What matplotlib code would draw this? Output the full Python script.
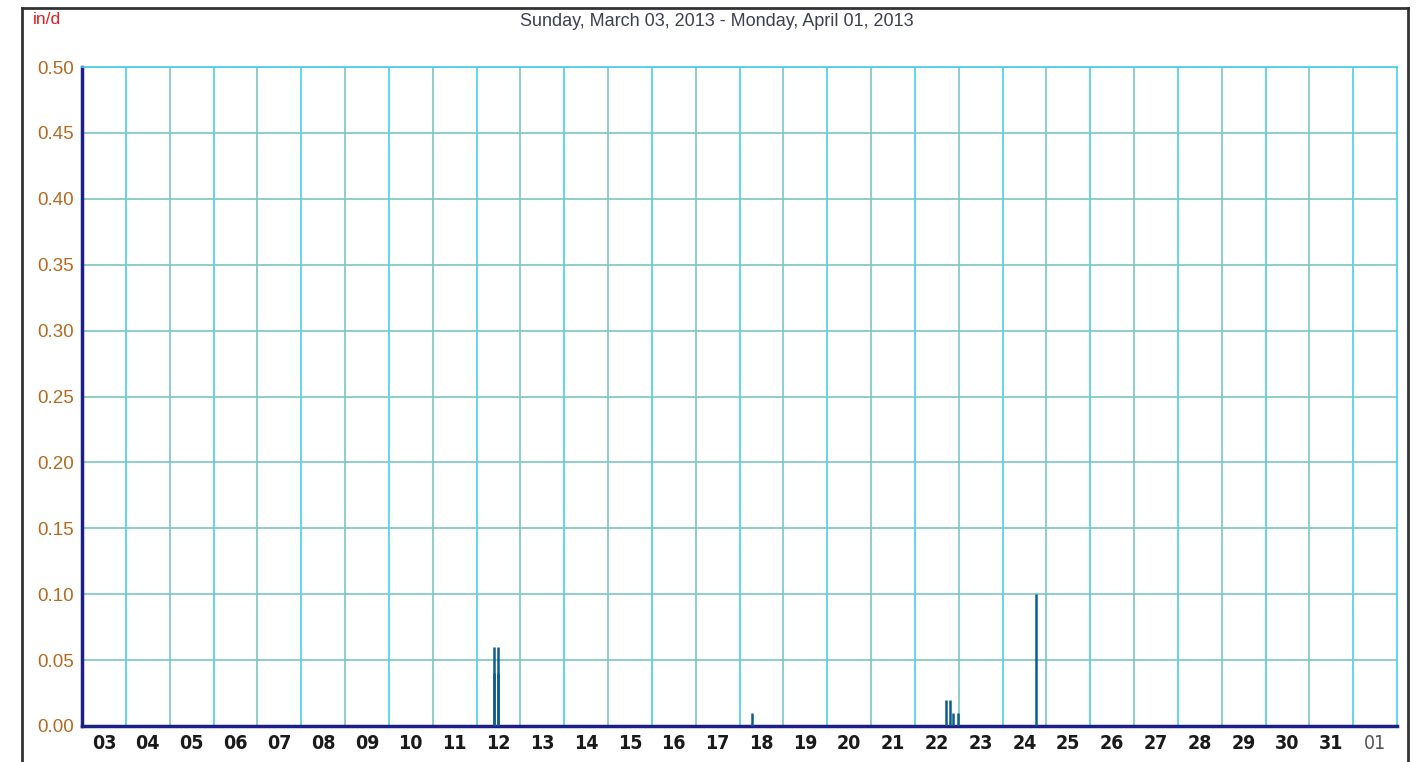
import matplotlib
matplotlib.use("Agg")
import matplotlib.pyplot as plt
import pandas as pd
from matplotlib.lines import Line2D

# precipitation rate readings (in/d), only non-zero samples listed
rain_times = pd.to_datetime([
    "2013-03-12 09:30", "2013-03-12 09:40", "2013-03-12 11:50", "2013-03-12 12:00",
    "2013-03-18 06:40",
    "2013-03-22 17:20", "2013-03-22 19:10", "2013-03-22 21:00", "2013-03-22 23:40",
    "2013-03-24 18:15",
])
rain_rate = [0.06, 0.04, 0.06, 0.04,
             0.01,
             0.02, 0.02, 0.01, 0.01,
             0.10]

start = pd.Timestamp("2013-03-03")
end = pd.Timestamp("2013-04-02")
y_ticks = [0.00, 0.05, 0.10, 0.15, 0.20, 0.25, 0.30, 0.35, 0.40, 0.45, 0.50]
title = "Sunday, March 03, 2013 - Monday, April 01, 2013"

_NAVY = "#1c1f86"
_CYAN = "#48cfe6"
_TEAL = "#7cc6c6"
_BROWN = "#b4691e"

fig = plt.figure(figsize=(14.21, 7.62), dpi=100)
ax = fig.add_axes([82 / 1421, 1 - 726 / 762, (1397 - 82) / 1421, (726 - 67) / 762])

days = pd.date_range(start, end, freq="D")
for i, d in enumerate(days[1:-1]):
    ax.axvline(d, color=_CYAN if i % 2 == 0 else _TEAL, lw=1.2, zorder=1)
for v in y_ticks[1:]:
    ax.axhline(v, color=_TEAL if v < 0.5 else _CYAN, lw=1.2, zorder=1)

ax.vlines(rain_times, 0, rain_rate, color="#0e5c8c", lw=1.8, zorder=3)

ax.set_xlim(start, end)
ax.set_ylim(0, 0.5)

noon = days[:-1] + pd.Timedelta(hours=12)
ax.set_xticks(noon)
ax.set_xticklabels([d.strftime("%d") for d in noon])
ax.tick_params(axis="x", length=0, pad=6)
for lbl in ax.get_xticklabels():
    lbl.set_fontfamily("DejaVu Sans")
    lbl.set_fontstretch("condensed")
    lbl.set_fontweight("bold")
    lbl.set_fontsize(14)
    lbl.set_color("#1a1a1a")
last = ax.get_xticklabels()[-1]
last.set_fontweight("normal")
last.set_color("#555555")

ax.set_yticks(y_ticks)
ax.set_yticklabels([f"{v:.2f}" for v in y_ticks], color=_BROWN, fontsize=13.5,
                   fontfamily="Liberation Sans")
ax.tick_params(axis="y", length=0, pad=6)

for side in ("left", "bottom"):
    ax.spines[side].set_color(_NAVY)
    ax.spines[side].set_linewidth(2.5)
for side in ("top", "right"):
    ax.spines[side].set_color(_CYAN)
    ax.spines[side].set_linewidth(1.2)

# outer window frame
frame_kw = dict(color="#333333", lw=2, transform=fig.transFigure)
fig.add_artist(Line2D([22 / 1421, 1408 / 1421], [1 - 8 / 762, 1 - 8 / 762], **frame_kw))
fig.add_artist(Line2D([22 / 1421, 22 / 1421], [0, 1 - 8 / 762], **frame_kw))
fig.add_artist(Line2D([1408 / 1421, 1408 / 1421], [0, 1 - 8 / 762], **frame_kw))

fig.text(717 / 1421, 1 - 21 / 762, title, ha="center", va="center",
         fontsize=13, color="#3c4050", fontfamily="Liberation Sans")
fig.text(33 / 1421, 1 - 20 / 762, "in/d", ha="left", va="center",
         fontsize=12.5, color="#e02020", fontfamily="Liberation Sans")

fig.savefig("out.png", dpi=100, facecolor="white")
